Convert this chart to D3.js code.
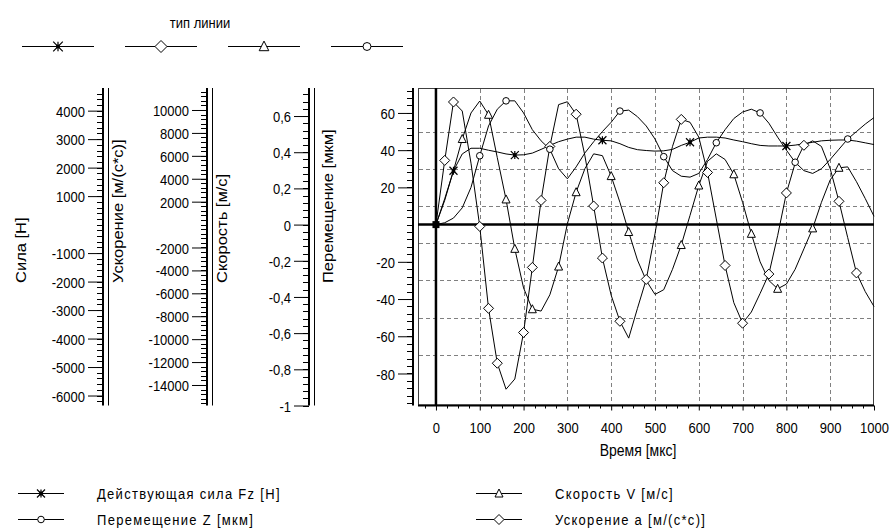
<!DOCTYPE html>
<html>
<head>
<meta charset="utf-8">
<script src="https://cdn.jsdelivr.net/npm/d3@7/dist/d3.min.js"></script>
<style>
  body { margin: 0; background: #fff; }
  svg text { font-family: "Liberation Sans", Arial, sans-serif; fill: #000; }
</style>
</head>
<body>
<svg id="chart" width="891" height="529"></svg>
<script>
// Time samples, мкс
const times = [0, 20, 40, 60, 80, 100, 120, 140, 160, 180, 200, 220, 240, 260, 280, 300, 320, 340, 360, 380,
  400, 420, 440, 460, 480, 500, 520, 540, 560, 580, 600, 620, 640, 660, 680, 700, 720, 740, 760, 780,
  800, 820, 840, 860, 880, 900, 920, 940, 960, 980, 1000];

// Действующая сила Fz, Н
const force = [0, 910, 1890, 2480, 2680, 2680, 2610, 2550, 2480, 2440, 2450, 2510, 2640, 2780, 2910, 3000, 3070, 3070, 3000, 2960,
  2940, 2840, 2710, 2630, 2600, 2580, 2590, 2640, 2780, 2890, 3040, 3070, 3070, 3040, 2970, 2910, 2840, 2780, 2760, 2760,
  2760, 2790, 2840, 2890, 2940, 2960, 2970, 2970, 2930, 2870, 2810];

// Ускорение a, м/(с*с)
const accel = [0, 5600, 10700, 9910, 5360, -160, -7310, -12100, -14370, -13480, -9420, -3740, 2110, 6820, 10470, 10720, 9630, 6010, 1620, -2920,
  -6170, -8440, -9910, -7310, -4790, -810, 3650, 6820, 9180, 8930, 7630, 4550, 490, -3570, -6820, -8610, -7630, -6010, -4320, -970,
  2760, 5360, 6920, 7310, 6820, 4870, 2030, -1140, -4220, -5850, -7150];

// Скорость V, м/с
const speed = [0, 0.134, 0.298, 0.473, 0.617, 0.683, 0.607, 0.370, 0.139, -0.134, -0.350, -0.468, -0.478, -0.388, -0.232, 0.004, 0.179, 0.309, 0.391, 0.381,
  0.268, 0.123, -0.041, -0.196, -0.309, -0.386, -0.360, -0.247, -0.113, 0.051, 0.216, 0.350, 0.391, 0.360, 0.278, 0.123, -0.051, -0.206, -0.309, -0.355,
  -0.329, -0.247, -0.134, -0.021, 0.123, 0.247, 0.314, 0.319, 0.237, 0.144, 0.046];

// Перемещение Z, мкм
const displ = [0, 1, 3.5, 9, 20, 37, 53, 62, 66.5, 66.5, 60, 51, 45, 40.5, 30, 24.6, 31, 38.5, 44.5, 50,
  55, 61, 61.5, 58, 53, 46, 36.5, 29, 26, 25.5, 27.5, 35, 44, 51, 57, 60.5, 62, 60, 54.5, 47,
  40, 33.5, 29, 27.5, 30, 35, 40.5, 46, 50, 54, 57.5];

// Times at which each series shows its marker
const forceMarks = [0, 40, 180, 380, 580, 800];
const accelMarks = [20, 40, 100, 120, 140, 200, 220, 240, 260, 320, 360, 380, 420, 480, 520, 560, 620, 660, 700, 760, 800, 840, 920, 960];
const speedMarks = [60, 120, 160, 180, 220, 280, 320, 400, 440, 560, 600, 680, 720, 780, 860, 920];
const displMarks = [100, 160, 260, 420, 520, 640, 740, 820, 940];

// Axis tick labels
const forceTicks = [4000, 3000, 2000, 1000, -1000, -2000, -3000, -4000, -5000, -6000];
const accelTicks = [10000, 8000, 6000, 4000, 2000, -2000, -4000, -6000, -8000, -10000, -12000, -14000];
const speedTicks = [0.6, 0.4, 0.2, 0, -0.2, -0.4, -0.6, -0.8, -1];
const displTicks = [60, 40, 20, -20, -40, -60, -80];
const timeTicks = [0, 100, 200, 300, 400, 500, 600, 700, 800, 900, 1000];
const gridY = [50, 30, 10, -10, -30, -50, -70];
const gridX = [100, 200, 300, 400, 500, 600, 700, 800, 900];

const svg = d3.select("#chart");
const T = 88, B = 405.5, L = 418, R = 874;
const STRETCH = 1.18;   // glyphs are drawn a little taller than wide
const TICK_FONT = 13;

const x = d3.scaleLinear().domain([-41, 1000]).range([L, R]);
const yDispl = d3.scaleLinear().domain([-97.2, 73.4]).range([B, T]);
const yForce = d3.scaleLinear().domain([-6350, 4795]).range([B, T]);
const yAccel = d3.scaleLinear().domain([-15790, 11920]).range([B, T]);
const ySpeed = d3.scaleLinear().domain([-1, 0.755]).range([B, T]);

const commaFmt = d => String(d).replace(".", ",");

// text helper: horizontal text with taller glyphs, (x, y) is the vertical centre
function label(parent, px, py, str, size, anchor, spacing) {
  return parent.append("text")
    .attr("transform", `translate(${px},${py}) scale(1,${STRETCH})`)
    .attr("text-anchor", anchor || "start").attr("dy", "0.36em")
    .attr("font-size", size).attr("letter-spacing", spacing || 0).text(str);
}

// ---- vertical axes (ruler with comb of minor ticks, double border line)
// axis titles read upwards, all starting from the same height
const TITLE_START = 283;
function verticalAxis(scale, xPos, ticks, fmt, minorStep, title, titleX) {
  const g = svg.append("g");
  const [d0, d1] = scale.domain();
  const minors = d3.range(Math.ceil(d0 / minorStep) * minorStep, d1, minorStep);
  g.selectAll("line.mn").data(minors).join("line")
    .attr("x1", xPos - 6).attr("x2", xPos)
    .attr("y1", d => Math.round(scale(d)) + 0.5).attr("y2", d => Math.round(scale(d)) + 0.5)
    .attr("stroke", "#000").attr("stroke-width", 1);
  const ax = d3.axisLeft(scale).tickValues(ticks).tickFormat(fmt).tickSize(15).tickSizeOuter(0).tickPadding(3);
  const a = g.append("g").attr("transform", `translate(${xPos},0)`).call(ax);
  a.select(".domain").remove();
  a.selectAll(".tick line").attr("stroke", "#000");
  a.selectAll(".tick text")
    .attr("font-size", TICK_FONT).attr("font-family", "Liberation Sans, Arial, sans-serif")
    .attr("dy", "0.36em").attr("transform", `scale(1,${STRETCH})`);
  g.append("rect").attr("x", xPos - 1).attr("y", T).attr("width", 2).attr("height", B - T).attr("fill", "#000");
  g.append("line").attr("x1", xPos + 5.5).attr("x2", xPos + 5.5).attr("y1", T).attr("y2", B)
    .attr("stroke", "#000").attr("stroke-width", 1);
  g.append("text").attr("transform", `translate(${titleX},${TITLE_START}) rotate(-90) scale(${STRETCH},1)`)
    .attr("text-anchor", "start").attr("dy", "0.36em").attr("font-size", 14).text(title);
}

verticalAxis(yForce, 103, forceTicks, d => String(d), 200, "Сила [Н]", 21);
verticalAxis(yAccel, 207, accelTicks, d => String(d), 400, "Ускорение [м/(с*с)]", 118);
verticalAxis(ySpeed, 309, speedTicks, commaFmt, 0.04, "Скорость [м/с]", 222);
verticalAxis(yDispl, 413, displTicks, d => String(d), 4, "Перемещение [мкм]", 328);

// ---- plot frame and grid
svg.append("rect").attr("x", L + 0.5).attr("y", T + 0.5).attr("width", R - L - 1).attr("height", B - T - 1)
  .attr("fill", "none").attr("stroke", "#404040").attr("stroke-width", 1);

svg.append("g").selectAll("line").data(gridY).join("line")
  .attr("x1", L + 1).attr("x2", R - 1)
  .attr("y1", d => Math.round(yDispl(d)) + 0.5).attr("y2", d => Math.round(yDispl(d)) + 0.5)
  .attr("stroke", "#808080").attr("stroke-dasharray", "4,3");
svg.append("g").selectAll("line").data(gridX).join("line")
  .attr("y1", T + 1).attr("y2", B - 1)
  .attr("x1", d => Math.round(x(d)) + 0.5).attr("x2", d => Math.round(x(d)) + 0.5)
  .attr("stroke", "#808080").attr("stroke-dasharray", "4,3");

// zero lines
svg.append("line").attr("x1", L).attr("x2", R).attr("y1", yDispl(0)).attr("y2", yDispl(0))
  .attr("stroke", "#000").attr("stroke-width", 2.5);
svg.append("line").attr("x1", x(0)).attr("x2", x(0)).attr("y1", T).attr("y2", B)
  .attr("stroke", "#000").attr("stroke-width", 2.5);

// ---- bottom axis
const minorX = d3.range(-25, 1000, 25).filter(d => d % 100 !== 0);
svg.append("g").selectAll("line").data(minorX).join("line")
  .attr("x1", d => Math.round(x(d)) + 0.5).attr("x2", d => Math.round(x(d)) + 0.5)
  .attr("y1", B).attr("y2", B + 3).attr("stroke", "#000");
const xa = svg.append("g").attr("transform", `translate(0,${B})`)
  .call(d3.axisBottom(x).tickValues(timeTicks).tickFormat(d => String(d)).tickSize(5).tickSizeOuter(0));
xa.select(".domain").remove();
xa.selectAll(".tick text")
  .attr("font-size", TICK_FONT).attr("font-family", "Liberation Sans, Arial, sans-serif")
  .attr("y", 0).attr("dy", "0.36em")
  .attr("transform", `translate(0,22) scale(1,${STRETCH})`);
svg.append("line").attr("x1", L).attr("x2", R).attr("y1", B).attr("y2", B).attr("stroke", "#000").attr("stroke-width", 2);
label(svg, 638, 450, "Время [мкс]", 14, "middle");

// ---- series
const series = [
  { name: "accel", vals: accel, y: yAccel, marks: accelMarks, shape: "diamond" },
  { name: "speed", vals: speed, y: ySpeed, marks: speedMarks, shape: "triangle" },
  { name: "displ", vals: displ, y: yDispl, marks: displMarks, shape: "circle" },
  { name: "force", vals: force, y: yForce, marks: forceMarks, shape: "star" }
];

const plot = svg.append("g");
series.forEach(s => {
  const pts = times.map((t, i) => [t, s.vals[i]]);
  plot.append("path").datum(pts)
    .attr("d", d3.line().x(d => x(d[0])).y(d => s.y(d[1])))
    .attr("fill", "none").attr("stroke", "#000").attr("stroke-width", 1);
});

function marker(g, shape, big) {
  const k = big ? 1.2 : 1;
  if (shape === "diamond") {
    g.append("path").attr("d", `M0,${-5 * k}L${5 * k},0L0,${5 * k}L${-5 * k},0Z`)
      .attr("fill", "#fff").attr("stroke", "#000");
  } else if (shape === "triangle") {
    g.append("path").attr("d", `M0,${-4.5 * k}L${4 * k},${3.5 * k}L${-4 * k},${3.5 * k}Z`)
      .attr("fill", "#fff").attr("stroke", "#000");
  } else if (shape === "circle") {
    g.append("circle").attr("r", 3.3 * k).attr("fill", "#fff").attr("stroke", "#000");
  } else {
    g.append("path").attr("d", `M${-4 * k},${-4 * k}L${4 * k},${4 * k}M${-4 * k},${4 * k}L${4 * k},${-4 * k}M0,${-4 * k}L0,${4 * k}`)
      .attr("stroke", "#000").attr("stroke-width", 1.2);
    g.append("rect").attr("x", -1.8).attr("y", -1.8).attr("width", 3.6).attr("height", 3.6).attr("fill", "#000");
  }
}

series.forEach(s => {
  s.marks.forEach(t => {
    const i = times.indexOf(t);
    const g = plot.append("g").attr("transform", `translate(${x(t)},${s.y(s.vals[i])})`);
    if (t === 0) {
      // all series start together: a solid block at the origin
      g.append("rect").attr("x", -3.5).attr("y", -3.5).attr("width", 7).attr("height", 7).attr("fill", "#000");
    } else {
      marker(g, s.shape, false);
    }
  });
});

// ---- line-type legend on top
label(svg, 200, 22, "тип линии", 13, "middle");
const topShapes = ["star", "diamond", "triangle", "circle"];
const topStarts = [22, 125, 228, 331];
topShapes.forEach((sh, i) => {
  svg.append("line").attr("x1", topStarts[i]).attr("x2", topStarts[i] + 72).attr("y1", 46.5).attr("y2", 46.5)
    .attr("stroke", "#000");
  marker(svg.append("g").attr("transform", `translate(${topStarts[i] + 36},46.5)`), sh, true);
});

// ---- series legend at bottom
const legendNames = ["Действующая сила Fz [Н]", "Скорость V [м/с]", "Перемещение Z [мкм]", "Ускорение а [м/(с*с)]"];
const legendShapes = ["star", "triangle", "circle", "diamond"];
const legendCols = [18, 476];
const legendRows = [493, 519];
const lg = svg.append("g");
legendNames.forEach((nm, i) => {
  const cx = legendCols[i % 2], cy = legendRows[Math.floor(i / 2)];
  lg.append("line").attr("x1", cx).attr("x2", cx + 46).attr("y1", cy + 0.5).attr("y2", cy + 0.5).attr("stroke", "#000");
  marker(lg.append("g").attr("transform", `translate(${cx + 23},${cy + 0.5})`), legendShapes[i], false);
  label(lg, cx + 79, cy, nm, 13, "start", 1.3);
});
</script>
</body>
</html>
